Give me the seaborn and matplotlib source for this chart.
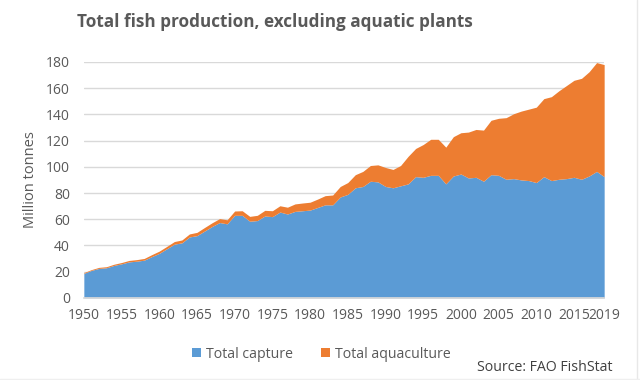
import numpy as np
import pandas as pd
import matplotlib
matplotlib.use("Agg")
import matplotlib.pyplot as plt
import seaborn as sns
from matplotlib.ticker import MultipleLocator
from matplotlib.lines import Line2D

years = list(range(1950, 2020))
capture = [18.7, 21.0, 22.5, 23.0, 24.8, 26.0, 27.5, 28.0, 28.8, 31.5,
           34.0, 37.5, 41.0, 42.0, 46.5, 47.5, 51.0, 54.5, 57.5, 56.5,
           63.0, 63.0, 58.5, 59.0, 62.5, 62.0, 65.5, 64.0, 66.0, 66.5,
           67.0, 69.0, 71.0, 71.0, 77.0, 79.0, 84.0, 85.0, 89.0, 88.5,
           85.0, 84.0, 85.5, 87.0, 92.5, 92.0, 93.5, 93.5, 87.0, 93.0,
           94.5, 91.5, 92.0, 89.0, 94.0, 93.5, 90.5, 91.0, 90.0, 89.5,
           88.0, 92.5, 89.5, 90.5, 91.0, 92.0, 90.5, 93.0, 96.5, 92.5]
aquaculture = [0.6, 0.6, 0.8, 0.8, 0.9, 1.0, 1.1, 1.2, 1.3, 1.5,
               1.7, 1.8, 2.0, 2.2, 2.3, 2.5, 2.7, 2.8, 3.0, 3.1,
               3.3, 3.5, 3.7, 4.0, 4.3, 4.5, 4.8, 5.2, 5.7, 5.9,
               6.0, 6.4, 7.0, 7.5, 8.0, 9.0, 10.0, 11.5, 12.0, 13.0,
               14.5, 14.0, 15.5, 21.0, 21.5, 25.0, 27.5, 27.5, 28.0, 30.0,
               31.5, 35.0, 36.5, 39.0, 41.5, 43.5, 47.0, 49.5, 52.5, 54.5,
               57.5, 59.5, 64.0, 67.5, 71.0, 74.0, 77.0, 79.5, 83.0, 85.5]
series_names = ["Total capture", "Total aquaculture"]
xtick_years = [1950, 1955, 1960, 1965, 1970, 1975, 1980, 1985, 1990, 1995,
               2000, 2005, 2010, 2015, 2019]
yticks = [0, 20, 40, 60, 80, 100, 120, 140, 160, 180]

df = pd.DataFrame({"year": years, series_names[0]: capture, series_names[1]: aquaculture})

sns.set_theme(style="white")
plt.rcParams["font.family"] = ["Open Sans", "DejaVu Sans"]

text_col = "#595959"
colors = ["#5B9BD5", "#ED7D31"]

fig = plt.figure(figsize=(6.4, 3.8), dpi=100)
ax = fig.add_axes([0.131, 0.216, 0.813, 0.621])
ax.stackplot(df["year"], df[series_names[0]], df[series_names[1]],
             colors=colors, labels=series_names, zorder=2, linewidth=0)

ax.set_xlim(1950, 2019)
ax.set_ylim(0, 180)
ax.set_yticks(yticks)
ax.set_xticks(xtick_years)
ax.xaxis.set_minor_locator(MultipleLocator(1))
ax.grid(axis="y", color="#D9D9D9", linewidth=1, zorder=0)
ax.grid(axis="x", visible=False)
for s in ["left", "right", "top"]:
    ax.spines[s].set_visible(False)
ax.spines["bottom"].set_color("#D9D9D9")
ax.tick_params(axis="x", which="both", colors="#BFBFBF", length=4, width=0.8,
               direction="out", labelcolor=text_col, labelsize=10)
ax.tick_params(axis="x", which="major", pad=3)
ax.tick_params(axis="y", length=0, labelcolor=text_col, labelsize=10, pad=10)
ax.set_ylabel("Million tonnes", color=text_col, fontsize=10.5, labelpad=6)

fig.text(0.43, 0.942, "Total fish production, excluding aquatic plants",
         ha="center", va="center", fontsize=12.3, fontweight="bold", color=text_col)

handles, labels = ax.get_legend_handles_labels()
fig.legend(handles, labels, loc="center", bbox_to_anchor=(0.502, 0.068), ncol=2,
           frameon=False, fontsize=10.2, handlelength=0.65, handleheight=0.65,
           handletextpad=0.3, columnspacing=2.0, labelcolor=text_col)

fig.text(0.957, 0.034, "Source: FAO FishStat", ha="right", va="center",
         fontsize=10.2, color="#404040")

# faint frame lines at right and bottom edges
fig.add_artist(Line2D([0.996, 0.996], [0.0, 1.0], transform=fig.transFigure,
                      color="#E8E8E8", linewidth=1))
fig.add_artist(Line2D([0.0, 1.0], [0.003, 0.003], transform=fig.transFigure,
                      color="#EFEFEF", linewidth=1))

fig.savefig("out.png", dpi=100)
